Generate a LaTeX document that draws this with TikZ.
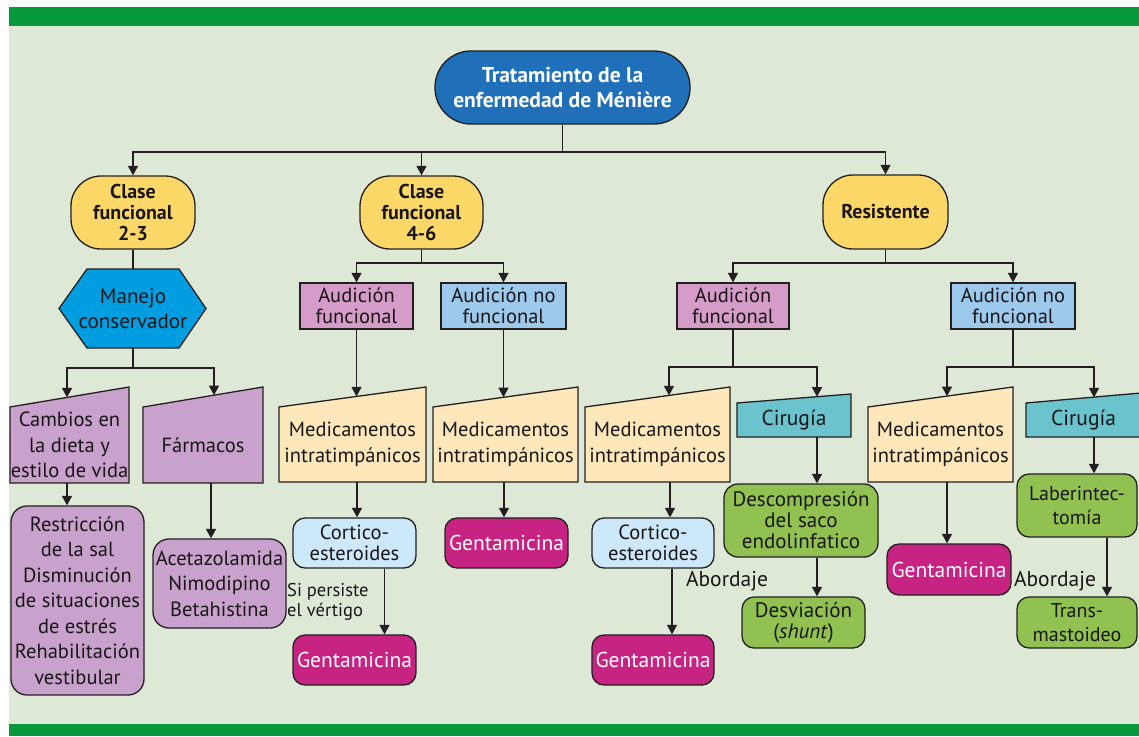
\documentclass[tikz,border=0pt]{standalone}
\usepackage{fontspec}
\setmainfont{PT Sans}
\usetikzlibrary{arrows.meta,calc}
\definecolor{bg}{RGB}{221,233,214}
\definecolor{band}{RGB}{6,154,60}
\definecolor{rootc}{RGB}{31,112,184}
\definecolor{yel}{RGB}{253,216,104}
\definecolor{hexc}{RGB}{0,158,224}
\definecolor{purp}{RGB}{201,161,205}
\definecolor{aud}{RGB}{213,156,201}
\definecolor{audn}{RGB}{157,201,236}
\definecolor{medc}{RGB}{254,231,186}
\definecolor{cort}{RGB}{205,232,250}
\definecolor{gent}{RGB}{199,35,131}
\definecolor{ciru}{RGB}{106,195,205}
\definecolor{grn}{RGB}{145,193,80}
\definecolor{linec}{RGB}{35,31,32}
\definecolor{txtc}{RGB}{25,22,23}
\newcommand\mtrap[9]{%
  \draw[box,fill=#7] (#2,#4+#5) -- (#3,#4) -- (#3,#6) -- (#2,#6) -- cycle;
  \node[txt,#9,minimum width=(#3-#2)*1pt,minimum height=(#6-#4-#5)*1pt] (#1) at ({(#2+#3)/2},{(#4+#5+#6)/2}) {#8};}
\begin{document}
\begin{tikzpicture}[x=1pt,y=-1pt,
  ln/.style={draw=linec,line width=1.3pt},
  arr/.style={ln,-{Triangle[length=9.5pt,width=10pt]}},
  box/.style={draw=linec,line width=1.3pt},
  txt/.style={inner sep=0pt,align=center,text=txtc,font=\fontsize{20.5}{25.5}\selectfont},
  rbox/.style={box,txt,rounded corners=12pt},
  sbox/.style={box,txt,font=\fontsize{20.5}{21}\selectfont},
  stad/.style={box,txt,font=\bfseries\fontsize{20}{21}\selectfont,fill=yel,rounded corners=30pt},
  gbox/.style={rbox,fill=gent,text=white,font=\fontsize{21.5}{24}\selectfont,minimum width=123pt,minimum height=50pt},
  lbl/.style={inner sep=0pt,text=txtc}
]
\useasboundingbox (0,0) rectangle (1139,736);
% background
\fill[bg] (9,7) rectangle (1139,736);
\fill[band] (9,7) rectangle (1139,26);
\fill[band] (9,724) rectangle (1139,736);

% level 0 and 1
\node[box,txt,fill=rootc,text=white,font=\bfseries\fontsize{21.5}{25}\selectfont,rounded corners=36pt,minimum width=255pt,minimum height=73pt] (root) at (562.5,87.5) {Tratamiento de la\\enfermedad de Ménière};
\node[stad,minimum width=124pt,minimum height=73pt] (c23) at (133,212.5) {Clase\\funcional\\2-3};
\node[stad,minimum width=123pt,minimum height=73pt] (c46) at (421.5,212.5) {Clase\\funcional\\4-6};
\node[stad,minimum width=125pt,minimum height=74pt] (res) at (885.5,212) {Resistente};

% branch 2-3
\draw[box,fill=hexc] (59,308.5) -- (87,269) -- (179,269) -- (206,308.5) -- (179,348) -- (87,348) -- cycle;
\node[txt,font=\fontsize{21}{25}\selectfont,minimum width=147pt,minimum height=79pt] (hex) at (133,308.5) {Manejo\\conservador};
\mtrap{camb}{10}{129}{387}{20}{483}{purp}{Cambios en\\la dieta y\\estilo de vida}{}
\mtrap{farm}{143}{263}{387}{20}{483}{purp}{Fármacos}{}
\node[rbox,rounded corners=16pt,fill=purp,minimum width=133pt,minimum height=189pt] (restr) at (77.5,600.5) {Restricción\\de la sal\\Disminución\\de situaciones\\de estrés\\Rehabilitación\\vestibular};
\node[rbox,rounded corners=16pt,fill=purp,minimum width=133pt,minimum height=89pt] (acet) at (219.5,583.5) {Acetazolamida\\Nimodipino\\Betahistina};

% branch 4-6
\node[sbox,fill=aud,minimum width=113pt,minimum height=46pt] (af1) at (356.5,306) {Audición\\funcional};
\node[sbox,fill=audn,minimum width=125pt,minimum height=46pt] (anf1) at (503.5,306) {Audición no\\funcional};
\mtrap{medA}{279}{426}{387}{20}{482}{medc}{Medicamentos\\intratimpánicos}{}
\mtrap{medB}{433}{578}{387}{20}{482}{medc}{Medicamentos\\intratimpánicos}{}
\node[rbox,fill=cort,font=\fontsize{20.5}{21}\selectfont,minimum width=123pt,minimum height=50pt] (cortA) at (354.5,543) {Cortico-\\esteroides};
\node[gbox] (gentA) at (354.5,660) {Gentamicina};
\node[gbox] (gentB) at (506.5,543) {Gentamicina};
\node[lbl,anchor=west,align=left,font=\fontsize{18.5}{20}\selectfont] (sip) at (287,602) {Si persiste\\el vértigo};

% branch resistente
\node[sbox,fill=aud,minimum width=112pt,minimum height=46pt] (afR) at (733,306) {Audición\\funcional};
\node[sbox,fill=audn,minimum width=124pt,minimum height=46pt] (anfR) at (1013,306) {Audición no\\funcional};
\mtrap{medC}{585}{730}{387}{20}{482}{medc}{Medicamentos\\intratimpánicos}{}
\mtrap{cirC}{737}{851}{394}{9}{437}{ciru}{Cirugía}{font=\fontsize{21.5}{24}\selectfont}
\node[rbox,fill=cort,font=\fontsize{20.5}{21}\selectfont,minimum width=122pt,minimum height=50pt] (cortC) at (653,543) {Cortico-\\esteroides};
\node[gbox,minimum width=122pt] (gentC) at (653,660) {Gentamicina};
\node[rbox,rounded corners=14pt,fill=grn,font=\fontsize{21}{21}\selectfont,minimum width=154pt,minimum height=73pt] (desc) at (801,520.5) {Descompresión\\del saco\\endolinfatico};
\node[rbox,fill=grn,font=\fontsize{21}{21}\selectfont,minimum width=123pt,minimum height=51pt] (desv) at (803.5,622.5) {Desviación\\(\textit{shunt})};
\node[lbl,font=\fontsize{21.5}{22}\selectfont] (ab1) at (727,581) {Abordaje};
\mtrap{medD}{868}{1013}{387}{20}{482}{medc}{Medicamentos\\intratimpánicos}{}
\mtrap{cirD}{1026}{1141}{393}{10}{437}{ciru}{Cirugía}{font=\fontsize{21.5}{24}\selectfont}
\node[gbox,minimum width=124pt,minimum height=51pt] (gentD) at (949,569.5) {Gentamicina};
\node[rbox,fill=grn,font=\fontsize{20}{24}\selectfont,minimum width=120pt,minimum height=63pt] (lab) at (1077,505.5) {Laberintec-\\tomía};
\node[rbox,fill=grn,font=\fontsize{20}{24}\selectfont,minimum width=120pt,minimum height=51pt] (trans) at (1077,622.5) {Trans-\\mastoideo};
\node[lbl,font=\fontsize{21.5}{22}\selectfont] (ab2) at (1055,581) {Abordaje};

% junction coordinates
\coordinate (j0) at (562.5,152);
\coordinate (j1) at (133,368);
\coordinate (j2) at (421.5,263);
\coordinate (j3) at (885.5,263);
\coordinate (j4) at (733,367);
\coordinate (j5) at (1013,367);
% entry points on slanted tops
\coordinate (camb-in) at (67,397.4);
\coordinate (farm-in) at (214,395.2);
\coordinate (medA-in) at (356.5,396.4);
\coordinate (medB-in) at (503.5,397.2);
\coordinate (medC-in) at (669,395.4);
\coordinate (cirC-in) at (817,396.7);
\coordinate (medD-in) at (947,396.1);
\coordinate (cirD-in) at (1094,397.4);
% exit points
\coordinate (camb-out) at (67,483);
\coordinate (farm-out) at (211,483);
\coordinate (medA-out) at (357,482);
\coordinate (medB-out) at (504,482);
\coordinate (medC-out) at (670,482);
\coordinate (cirC-out) at (817,437);
\coordinate (medD-out) at (947,482);
\coordinate (cirD-out) at (1094,437);

% connectors
\draw[ln] (root.south) -- (j0);
\draw[arr] (j0) -| (c23.north);
\draw[arr] (j0) -| (c46.north);
\draw[arr] (j0) -| (res.north);
\draw[ln] (c23.south) -- (hex.north);
\draw[ln] (hex.south) -- (j1);
\draw[arr] (j1) -| (camb-in);
\draw[arr] (j1) -| (farm-in);
\draw[arr] (camb-out) -- (camb-out |- restr.north);
\draw[arr] (farm-out) -- (farm-out |- acet.north);

\draw[ln] (c46.south) -- (j2);
\draw[arr] (j2) -| (af1.north);
\draw[arr] (j2) -| (anf1.north);
\draw[arr] (af1.south) -- (medA-in);
\draw[arr] (anf1.south) -- (medB-in);
\draw[arr] (medA-out) -- (medA-out |- cortA.north);
\draw[arr] ($(cortA.south)+(30,0)$) -- ($(gentA.north)+(30,0)$);
\draw[arr] (medB-out) -- (medB-out |- gentB.north);

\draw[ln] (res.south) -- (j3);
\draw[arr] (j3) -| (afR.north);
\draw[arr] (j3) -| (anfR.north);
\draw[ln] (afR.south) -- (j4);
\draw[arr] (j4) -| (medC-in);
\draw[arr] (j4) -| (cirC-in);
\draw[arr] (medC-out) -- (medC-out |- cortC.north);
\draw[arr] ($(cortC.south)+(19,0)$) -- ($(gentC.north)+(19,0)$);
\draw[arr] (cirC-out) -- (cirC-out |- desc.north);
\draw[arr] ($(desc.south)+(16,0)$) -- ($(desv.north)+(13.5,0)$);
\draw[ln] (anfR.south) -- (j5);
\draw[arr] (j5) -| (medD-in);
\draw[arr] (j5) -| (cirD-in);
\draw[arr] (medD-out) -- (medD-out |- gentD.north);
\draw[arr] (cirD-out) -- (cirD-out |- lab.north);
\draw[arr] ($(lab.south)+(30,0)$) -- ($(trans.north)+(30,0)$);
\end{tikzpicture}
\end{document}
